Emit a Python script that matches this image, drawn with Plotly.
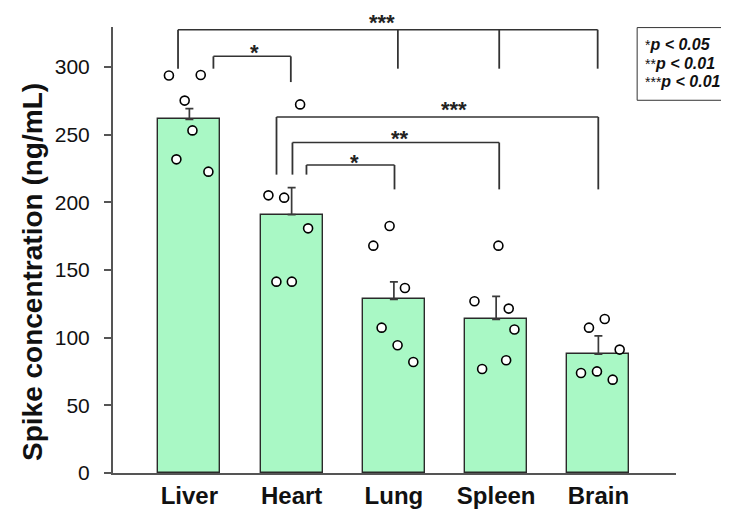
import plotly.graph_objects as go

categories = ["Liver", "Heart", "Lung", "Spleen", "Brain"]
means = [261.4, 190.9, 128.3, 113.6, 87.9]
sem = [7.9, 20.0, 12.9, 17.0, 13.4]

points = [
    [293.8, 294.1, 275.2, 253.2, 231.8, 222.7],
    [205.2, 203.5, 272.4, 180.8, 141.4, 141.4],
    [182.5, 168.0, 136.7, 107.4, 94.4, 82.0],
    [168.0, 126.9, 121.5, 106.0, 83.3, 76.9],
    [113.8, 107.4, 91.2, 73.9, 75.1, 69.0],
]
jitter = [
    [-0.200, 0.111, -0.046, 0.030, -0.127, 0.186],
    [-0.227, -0.073, 0.083, 0.161, -0.149, 0.002],
    [-0.042, -0.201, 0.108, -0.120, 0.036, 0.190],
    [0.022, -0.212, 0.123, 0.179, 0.098, -0.137],
    [0.062, -0.092, 0.208, -0.170, -0.014, 0.140],
]

# significance brackets: x positions (category units), line level, drop ends, label
brackets = [
    dict(xs=[-0.111, 2.039, 3.030, 3.993], y=327.6, ends=[298.8, 298.8, 298.8, 298.8], label="***", lx=1.879, ly=337.0),
    dict(xs=[0.235, 0.992], y=307.9, ends=[298.8, 288.9], label="*", lx=0.640, ly=315.3),
    dict(xs=[0.852, 3.999], y=263.1, ends=[220.5, 209.6], label="***", lx=2.586, ly=272.8),
    dict(xs=[1.008, 3.030], y=244.2, ends=[220.5, 209.6], label="**", lx=2.058, ly=252.0),
    dict(xs=[1.145, 2.006], y=227.6, ends=[220.5, 209.6], label="*", lx=1.618, ly=234.0),
]

legend_lines = [("*", "p &lt; 0.05"), ("**", "p &lt; 0.01"), ("***", "p &lt; 0.01")]
y_title = "Spike concentration (ng/mL)"

FONT = "Arial, Liberation Sans, sans-serif"
AX = "#555555"
YMAX = 329.6
xpos = list(range(len(categories)))

fig = go.Figure()
fig.add_trace(go.Bar(
    x=xpos, y=means, width=0.605,
    marker=dict(color="#a9f8c5", line=dict(color="#2a2a2a", width=1.4)),
    error_y=dict(type="data", array=sem, arrayminus=[0] * len(sem), symmetric=False,
                 color="#3a3a3a", thickness=1.7, width=4),
    showlegend=False,
))

px_, py_ = [], []
for i, (vals, jit) in enumerate(zip(points, jitter)):
    for v, j in zip(vals, jit):
        px_.append(i + j)
        py_.append(v)
fig.add_trace(go.Scatter(
    x=px_, y=py_, mode="markers",
    marker=dict(symbol="circle", size=9, color="white", line=dict(color="black", width=1.6)),
    showlegend=False, cliponaxis=False,
))

shapes = []
for b in brackets:
    xs = b["xs"]
    shapes.append(dict(type="line", xref="x", yref="y", x0=xs[0], x1=xs[-1], y0=b["y"], y1=b["y"],
                       line=dict(color="#333333", width=1.5)))
    for x, e in zip(xs, b["ends"]):
        shapes.append(dict(type="line", xref="x", yref="y", x0=x, x1=x, y0=b["y"], y1=e,
                           line=dict(color="#333333", width=1.8)))
# legend box
shapes.append(dict(type="rect", xref="paper", yref="paper", x0=0.931, x1=1.0906, y0=0.8357, y1=0.9987,
                   line=dict(color="#333333", width=1), fillcolor="rgba(0,0,0,0)"))

annotations = []
for b in brackets:
    inside = b["ly"] <= YMAX
    annotations.append(dict(x=b["lx"], y=b["ly"] if inside else b["ly"] / YMAX, xref="x",
                            yref="y" if inside else "paper", text=f"<b>{b['label']}</b>", showarrow=False,
                            font=dict(family=FONT, size=22, color="#222222"), yshift=-6,
                            xanchor="center", yanchor="middle"))
for k, (st, txt) in enumerate(legend_lines):
    annotations.append(dict(x=0.9414, y=[0.961, 0.918, 0.8767][k], xref="paper", yref="paper",
                            text=f"<span style='font-size:14px'>{st}</span><b><i>{txt}</i></b>",
                            showarrow=False, xanchor="left", yanchor="middle",
                            font=dict(family=FONT, size=16, color="#111111")))
# y-axis title (placed as rotated annotation to match its off-centre position)
annotations.append(dict(x=-0.1427, y=0.45, xref="paper", yref="paper", text=f"<b>{y_title}</b>",
                        textangle=-90, showarrow=False, xanchor="center", yanchor="middle",
                        font=dict(family=FONT, size=28, color="#111111")))

# the page body adds an 8px offset, so the figure is 8px smaller and margins shifted
fig.update_layout(
    width=721, height=507,
    margin=dict(l=105, r=53, t=19, b=42, pad=0),
    plot_bgcolor="white", paper_bgcolor="white",
    shapes=shapes, annotations=annotations,
    bargap=0,
    xaxis=dict(range=[-0.747, 4.759], tickmode="array", tickvals=xpos, ticktext=categories,
               showline=True, linecolor=AX, linewidth=2, ticks="", showgrid=False, zeroline=False,
               automargin=False,
               tickfont=dict(family=FONT, size=24, color="#111111", weight="bold"),
               ticklabelstandoff=0),
    yaxis=dict(range=[0, YMAX], tickmode="array", tickvals=[0, 50, 100, 150, 200, 250, 300],
               showline=True, linecolor=AX, linewidth=2, ticks="outside", ticklen=7, tickwidth=1.5,
               tickcolor=AX, showgrid=False, zeroline=False, automargin=False,
               tickfont=dict(family=FONT, size=21, color="#111111"), ticklabelstandoff=10),
)

fig.write_html("out.html")
